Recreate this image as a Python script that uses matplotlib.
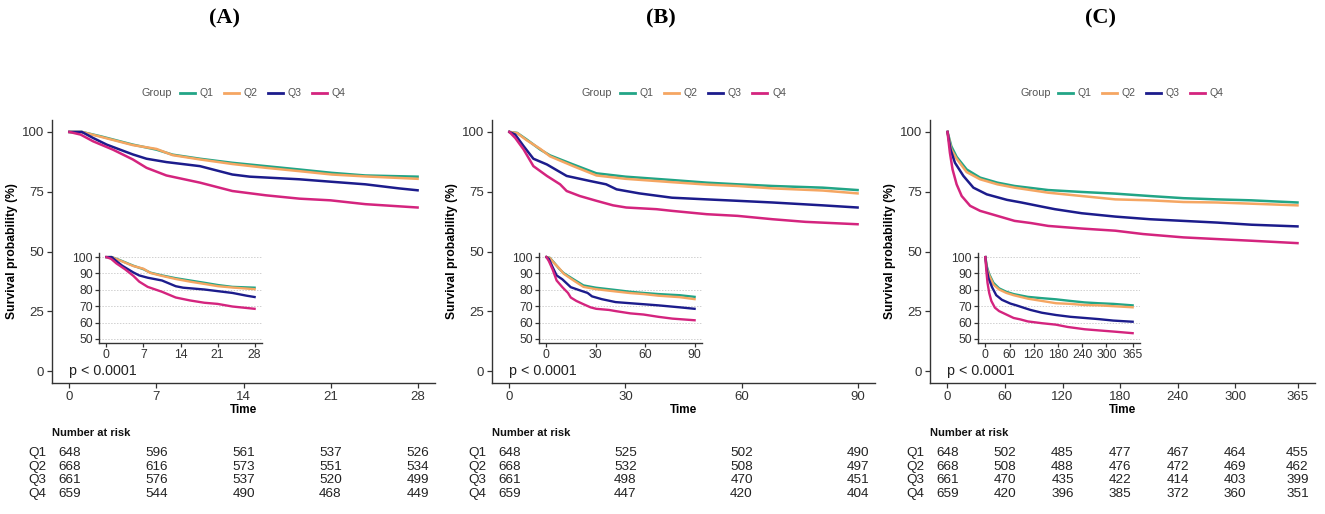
import matplotlib
matplotlib.use("Agg")
import matplotlib.pyplot as plt
from matplotlib.lines import Line2D
import numpy as np

plt.rcParams['font.family'] = ['Liberation Sans', 'DejaVu Sans']

groups = ["Q1", "Q2", "Q3", "Q4"]
colors = ["#22A586", "#F5A662", "#1C1C8C", "#D4247E"]

# ---------------- Panel A (28-day) ----------------
a_q1_t = [0, 1, 2.5, 5.1, 7, 8.3, 10.5, 13.1, 15.8, 18.5, 21.1, 23.8, 28]
a_q1_s = [100, 100, 98.2, 94.7, 92.6, 90.5, 88.8, 87.1, 85.7, 84.3, 82.9, 81.8, 81.3]
a_q2_t = [0, 1, 2.5, 5.1, 7, 8.3, 10.5, 13.1, 15.8, 18.5, 21.1, 23.8, 28]
a_q2_s = [100, 100, 98.0, 94.5, 92.9, 90.3, 88.5, 86.6, 85.0, 83.6, 82.2, 81.4, 80.4]
a_q3_t = [0, 1, 1.9, 3, 5.1, 6.2, 7.8, 10.5, 13.1, 14.5, 18.5, 21, 23.8, 26.5, 28]
a_q3_s = [100, 100, 97.5, 94.7, 90.6, 88.8, 87.4, 85.7, 82.2, 81.3, 80.2, 79.2, 78.1, 76.4, 75.6]
a_q4_t = [0, 0.9, 1.9, 3.5, 5.1, 6.2, 7.8, 10.5, 13.1, 15.8, 18.5, 21, 23.8, 28]
a_q4_s = [100, 98.9, 96.1, 92.6, 88.5, 85.0, 81.8, 78.8, 75.3, 73.5, 72.1, 71.4, 69.8, 68.4]

a_ticks = [0, 7, 14, 21, 28]
a_risk = [[648, 596, 561, 537, 526],
          [668, 616, 573, 551, 534],
          [661, 576, 537, 520, 499],
          [659, 544, 490, 468, 449]]

# ---------------- Panel B (90-day) ----------------
b_q1_t = [0, 2, 4.5, 8, 10.5, 16.5, 22.5, 30, 42, 51, 59, 68, 81, 90]
b_q1_s = [100, 99.6, 96.8, 92.6, 90.2, 86.4, 82.7, 81.3, 79.9, 78.8, 78.1, 77.4, 76.7, 75.7]
b_q2_t = [0, 2, 4.5, 8, 10.5, 16.5, 22.5, 30, 42, 51, 59, 68, 81, 90]
b_q2_s = [100, 99.5, 96.5, 92.9, 89.8, 85.7, 81.8, 80.4, 79.0, 78.0, 77.4, 76.4, 75.5, 74.3]
b_q3_t = [0, 1.5, 3.7, 6.2, 9.7, 14.8, 20.8, 25, 27.7, 33.6, 42, 51, 59, 68, 81, 90]
b_q3_s = [100, 98.9, 94.0, 88.8, 86.4, 81.6, 79.5, 78.1, 76.0, 74.3, 72.5, 71.8, 71.2, 70.5, 69.3, 68.4]
b_q4_t = [0, 1.5, 3.7, 6.2, 9.7, 13.1, 14.8, 18.2, 22.5, 26.8, 30.2, 38, 42, 51, 59, 68, 76.5, 90]
b_q4_s = [100, 97.5, 92.6, 85.7, 81.6, 78.1, 75.3, 73.2, 71.2, 69.3, 68.4, 67.7, 67.0, 65.6, 64.9, 63.5, 62.4, 61.4]

b_ticks = [0, 30, 60, 90]
b_risk = [[648, 525, 502, 490],
          [668, 532, 508, 497],
          [661, 498, 470, 451],
          [659, 447, 420, 404]]

# ---------------- Panel C (365-day) ----------------
c_q1_t = [0, 4, 9.5, 20, 34, 52, 70, 105, 140, 175, 211, 246, 281, 317, 365]
c_q1_s = [100, 94.0, 89.6, 84.3, 80.9, 78.8, 77.4, 75.7, 74.9, 74.2, 73.2, 72.3, 71.8, 71.4, 70.5]
c_q2_t = [0, 4, 9.5, 20, 34, 52, 70, 105, 140, 175, 211, 246, 281, 317, 365]
c_q2_s = [100, 92.6, 88.8, 83.2, 80.2, 78.1, 76.7, 74.6, 73.2, 71.8, 71.4, 70.7, 70.5, 70.0, 69.3]
c_q3_t = [0, 3.2, 7.8, 16.6, 27, 41, 62, 77, 98, 112, 140, 175, 211, 246, 281, 317, 365]
c_q3_s = [100, 92.6, 87.1, 81.6, 76.7, 73.9, 71.6, 70.5, 68.8, 67.7, 66.0, 64.6, 63.5, 62.8, 62.1, 61.2, 60.5]
c_q4_t = [0, 2.5, 5.3, 9.5, 14.8, 23.6, 34, 52, 70, 87, 105, 140, 175, 204, 246, 281, 317, 365]
c_q4_s = [100, 91.3, 84.3, 78.1, 73.2, 69.1, 67.0, 64.9, 62.8, 61.9, 60.7, 59.6, 58.7, 57.3, 55.9, 55.2, 54.5, 53.5]

c_ticks = [0, 60, 120, 180, 240, 300, 365]
c_risk = [[648, 502, 485, 477, 467, 464, 455],
          [668, 508, 488, 476, 472, 469, 462],
          [661, 470, 435, 422, 414, 403, 399],
          [659, 420, 396, 385, 372, 360, 351]]

titles = ["(A)", "(B)", "(C)"]
y_ticks = [0, 25, 50, 75, 100]
inset_y_ticks = [50, 60, 70, 80, 90, 100]

panels = [
    dict(curves=[(a_q1_t, a_q1_s), (a_q2_t, a_q2_s), (a_q3_t, a_q3_s), (a_q4_t, a_q4_s)],
         ticks=a_ticks, risk=a_risk, tmax=28),
    dict(curves=[(b_q1_t, b_q1_s), (b_q2_t, b_q2_s), (b_q3_t, b_q3_s), (b_q4_t, b_q4_s)],
         ticks=b_ticks, risk=b_risk, tmax=90),
    dict(curves=[(c_q1_t, c_q1_s), (c_q2_t, c_q2_s), (c_q3_t, c_q3_s), (c_q4_t, c_q4_s)],
         ticks=c_ticks, risk=c_risk, tmax=365),
]

W, H = 1325, 514
fig = plt.figure(figsize=(W / 100, H / 100), dpi=100)


def px_axes(left, right, top, bottom):
    return fig.add_axes([left / W, 1 - bottom / H, (right - left) / W, (bottom - top) / H])


def fx(x):
    return x / W


def fy(y):
    return 1 - y / H


main_lefts = [52, 492, 930]
main_rights = [435, 875, 1315]
inset_lefts = [99, 539, 978]
inset_rights = [262, 702, 1140]
title_x = [224, 661, 1100]

axcol = "#333333"
txtcol = "#333333"

for i, p in enumerate(panels):
    L, R = main_lefts[i], main_rights[i]
    tmax = p["tmax"]
    pad = tmax * 0.05

    ax = px_axes(L, R, 120, 383)
    for (t, s), c in zip(p["curves"], colors):
        ax.plot(t, s, color=c, lw=1.8, solid_joinstyle="round")
    ax.set_xlim(-pad, tmax + pad)
    ax.set_ylim(-5, 105)
    ax.set_xticks(p["ticks"])
    ax.set_yticks(y_ticks)
    for sp in ["top", "right"]:
        ax.spines[sp].set_visible(False)
    for sp in ["left", "bottom"]:
        ax.spines[sp].set_color(axcol)
        ax.spines[sp].set_linewidth(1.0)
    ax.tick_params(axis="both", labelsize=9.5, colors=axcol, labelcolor=txtcol,
                   length=3.5, width=0.9, pad=2)
    ax.set_xlabel("Time", fontsize=8.5, fontweight="bold", labelpad=1)
    ax.set_ylabel("Survival probability (%)", fontsize=8.7, fontweight="bold", labelpad=3)
    ax.text(0, 0, "p < 0.0001", fontsize=10.3, ha="left", va="center", color="#222222")

    # inset
    ins = px_axes(inset_lefts[i], inset_rights[i], 253, 343)
    for yv in inset_y_ticks:
        ins.axhline(yv, color="#d0d0d0", lw=0.7, ls=(0, (1.5, 1.5)), zorder=0)
    for (t, s), c in zip(p["curves"], colors):
        ins.plot(t, s, color=c, lw=1.7, solid_joinstyle="round")
    ins.set_xlim(-pad, tmax + pad)
    ins.set_ylim(47.5, 102.5)
    ins.set_xticks(p["ticks"])
    ins.set_yticks(inset_y_ticks)
    ins.patch.set_alpha(0)
    for sp in ["top", "right"]:
        ins.spines[sp].set_visible(False)
    for sp in ["left", "bottom"]:
        ins.spines[sp].set_color(axcol)
        ins.spines[sp].set_linewidth(1.0)
    ins.tick_params(axis="both", labelsize=8.8, colors=axcol, labelcolor=txtcol,
                    length=3, width=0.9, pad=1.5)

    # legend
    gx = L + 90
    fig.text(fx(gx), fy(93), "Group", fontsize=7.8, color="#555555", ha="left", va="center")
    for k, (g, c) in enumerate(zip(groups, colors)):
        kx = L + 128 + k * 44
        fig.add_artist(Line2D([fx(kx), fx(kx + 15)], [fy(93), fy(93)], color=c, lw=2.0))
        fig.text(fx(kx + 20), fy(93), g, fontsize=7.6, color="#555555", ha="left", va="center")

    # title
    fig.text(fx(title_x[i]), fy(18), titles[i], fontsize=16, fontweight="bold",
             family="Liberation Serif", ha="center", va="center")

    # risk table
    rt = px_axes(L, R, 425, 505)
    rt.set_xlim(-pad, tmax + pad)
    rt.set_ylim(80, 0)
    rt.axis("off")
    rt.text(0, 8, "Number at risk", fontsize=8, fontweight="bold", ha="left",
            va="center", transform=rt.get_yaxis_transform(), color="#111111")
    rows_y = [28, 42, 55, 69]
    for g, vals, yy in zip(groups, p["risk"], rows_y):
        rt.text(-24 / (R - L), yy, g, fontsize=9.7, ha="left", va="center",
                transform=rt.get_yaxis_transform(), color="#222222")
        for t, v in zip(p["ticks"], vals):
            rt.text(t, yy, str(v), fontsize=9.7, ha="center", va="center", color="#222222")

fig.savefig("out.png", dpi=100, facecolor="white")
